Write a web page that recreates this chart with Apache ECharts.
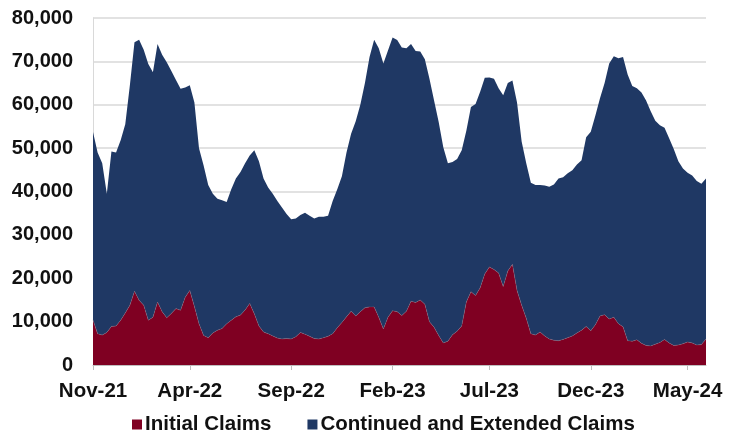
<!DOCTYPE html>
<html>
<head>
<meta charset="utf-8">
<script src="https://cdn.jsdelivr.net/npm/echarts@6/dist/echarts.min.js"></script>
<style>
  html, body { margin: 0; padding: 0; background: #fff; }
  #chart { width: 730px; height: 432px; }
</style>
</head>
<body>
<div id="chart"></div>
<script>
// weekly claims, Nov-21 .. Jun-24
const initialClaims = [
  10400, 7200, 6900, 7500, 8900, 9000, 10300, 12000, 13800, 17000,
  14900, 13800, 10300, 11000, 14500, 12300, 10900, 11900, 13000, 12600,
  15600, 17200, 13500, 9500, 6800, 6300, 7400, 8000, 8400, 9500,
  10300, 11100, 11500, 12700, 14200, 11800, 9000, 7600, 7200, 6700,
  6200, 6000, 6100, 6000, 6500, 7500, 7100, 6600, 6100, 6000,
  6300, 6600, 7200, 8600, 9800, 11100, 12400, 11300, 12300, 13200,
  13400, 13400, 11000, 8300, 11000, 12500, 12300, 11400, 12400, 14700,
  14400, 15000, 14000, 10000, 8700, 6800, 5100, 5500, 7000, 7800,
  9000, 14500, 16900, 16000, 17800, 21000, 22600, 22000, 21200, 18100,
  21700, 23200, 17200, 13800, 10800, 7200, 6900, 7600, 6700, 6000,
  5700, 5600, 5900, 6300, 6700, 7400, 8000, 8900, 7900, 9300,
  11300, 11600, 10600, 11000, 9500, 8800, 5600, 5500, 5800, 5000,
  4500, 4400, 4800, 5200, 5900, 5100, 4500, 4600, 4900, 5300,
  5100, 4600, 4700, 6000
];
const continuedClaims = [
  43300, 41800, 39600, 32000, 40300, 40000, 41500, 43500, 50700, 57400,
  60100, 58900, 59100, 56500, 59500, 59200, 58900, 55900, 52700, 51100,
  48400, 47300, 47000, 40500, 39200, 35200, 32100, 30300, 29600, 28100,
  30200, 31900, 33000, 33800, 34100, 37700, 38000, 35400, 33700, 32800,
  31600, 30300, 28700, 27600, 27300, 27100, 28000, 27800, 27700, 28200,
  27900, 27800, 30600, 31900, 33700, 37900, 40900, 44900, 47700, 51800,
  57600, 61600, 62000, 61200, 61500, 63000, 62600, 61800, 60600, 59300,
  58000, 57300, 56500, 56000, 52300, 49200, 45100, 41000, 39800, 39700,
  40500, 39500, 42600, 44200, 45200, 45200, 43700, 44000, 42600, 44100,
  43300, 42400, 43300, 37700, 35700, 34800, 34600, 33900, 34700, 35100,
  35900, 37400, 37400, 37900, 38200, 38800, 39200, 43600, 45900, 48200,
  50200, 53400, 58900, 60200, 61200, 62200, 61400, 58800, 58000, 57800,
  56500, 54100, 51500, 50100, 48800, 47200, 45300, 42400, 40400, 39000,
  38600, 37800, 37100, 37000
];
const tickIndex = [0, 21, 43, 65, 86, 108, 129];
const tickLabels = ['Nov-21', 'Apr-22', 'Sep-22', 'Feb-23', 'Jul-23', 'Dec-23', 'May-24'];

const start = Date.UTC(2021, 10, 6);
const weeks = initialClaims.map((_, i) =>
  new Date(start + i * 7 * 864e5).toISOString().slice(0, 10));

const font = '"Liberation Sans", Arial, sans-serif';
const chart = echarts.init(document.getElementById('chart'));

chart.setOption({
  animation: false,
  textStyle: { fontFamily: font },
  grid: { left: 93, right: 24, top: 18, bottom: 67 },
  legend: {
    left: 127,
    top: 409,
    itemWidth: 10,
    itemHeight: 10,
    itemGap: 36,
    icon: 'rect',
    textStyle: { fontFamily: font, fontSize: 20.5, fontWeight: 'bold', color: '#111', padding: [0, 0, 0, -2] },
    data: ['Initial Claims', 'Continued and Extended Claims']
  },
  xAxis: {
    type: 'category',
    boundaryGap: false,
    data: weeks,
    axisLine: { lineStyle: { color: '#bfbfbf', width: 1 } },
    axisTick: {
      interval: (i) => tickIndex.includes(i),
      length: 5,
      lineStyle: { color: '#bfbfbf' }
    },
    axisLabel: {
      interval: (i) => tickIndex.includes(i),
      formatter: (v, i) => tickLabels[tickIndex.indexOf(i)] || '',
      fontFamily: font,
      fontSize: 20.5,
      fontWeight: 'bold',
      color: '#111',
      margin: 16
    }
  },
  yAxis: {
    type: 'value',
    min: 0,
    max: 80000,
    interval: 10000,
    axisLine: { show: true, lineStyle: { color: '#d9d9d9' } },
    axisTick: { show: false },
    splitLine: { lineStyle: { color: '#d9d9d9', width: 1.5 } },
    axisLabel: {
      formatter: (v) => v.toLocaleString('en-US'),
      fontFamily: font,
      fontSize: 20,
      fontWeight: 'bold',
      color: '#111',
      margin: 20
    }
  },
  series: [
    {
      name: 'Initial Claims',
      type: 'line',
      stack: 'claims',
      symbol: 'none',
      lineStyle: { width: 0.6, color: '#a8707c', type: 'dotted' },
      itemStyle: { color: '#7f0022' },
      areaStyle: { color: '#7f0022', opacity: 1 },
      data: initialClaims
    },
    {
      name: 'Continued and Extended Claims',
      type: 'line',
      stack: 'claims',
      symbol: 'none',
      lineStyle: { width: 0 },
      itemStyle: { color: '#1f3864' },
      areaStyle: { color: '#1f3864', opacity: 1 },
      data: continuedClaims
    }
  ]
});
</script>
</body>
</html>
